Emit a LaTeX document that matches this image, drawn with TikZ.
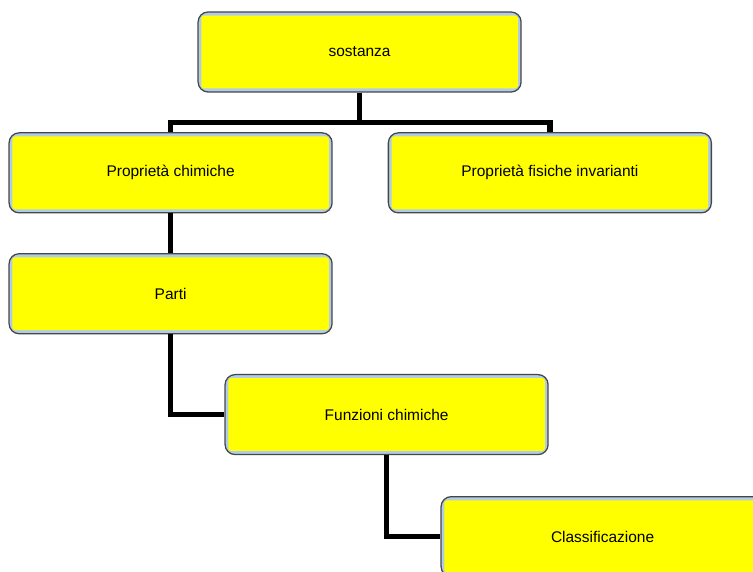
\documentclass[tikz,border=0pt]{standalone}
\usepackage{fontspec}
\setmainfont{Liberation Sans}
\usepackage{xcolor}
\usetikzlibrary{positioning}
\definecolor{boxblue}{RGB}{178,204,232}
\definecolor{boxedge}{RGB}{70,70,70}
\definecolor{boxyellow}{RGB}{255,255,0}

\begin{document}
\begin{tikzpicture}[
  font=\fontsize{11}{13}\selectfont,
  conceptbox/.style={
    draw=boxedge, line width=0.9pt, rounded corners=0.25cm,
    fill=boxblue, minimum width=8.075cm, minimum height=2cm,
    align=center, inner sep=2pt,
    path picture={
      \fill[boxyellow, rounded corners=2pt]
        ([shift={(0.08,0.09)}]path picture bounding box.south west) rectangle
        ([shift={(-0.08,-0.09)}]path picture bounding box.north east);
    }
  },
  conn/.style={line width=3.8pt, black}
]
\clip (0,0) rectangle (18.825,-14.3);

\node[conceptbox] (sost) at (8.99,-1.30) {sostanza};
\node[conceptbox, below=0.99cm of sost, xshift=-4.725cm] (pchim) {Proprietà chimiche};
\node[conceptbox, right=1.375cm of pchim] (pfis) {Proprietà fisiche invarianti};
\node[conceptbox, below=0.99cm of pchim] (parti) {Parti};
\node[conceptbox, below=0.99cm of parti, xshift=5.4cm] (funz) {Funzioni chimiche};
\node[conceptbox, below=1.02cm of funz, xshift=5.4cm] (classif) {Classificazione};

\draw[conn] (sost.south) -- ++(0,-0.74) -| (pchim.north);
\draw[conn] (sost.south) -- ++(0,-0.74) -| (pfis.north);
\draw[conn] (pchim.south) -- (parti.north);
\draw[conn] (parti.south) |- (funz.west);
\draw[conn] (funz.south) |- (classif.west);
\end{tikzpicture}
\end{document}
